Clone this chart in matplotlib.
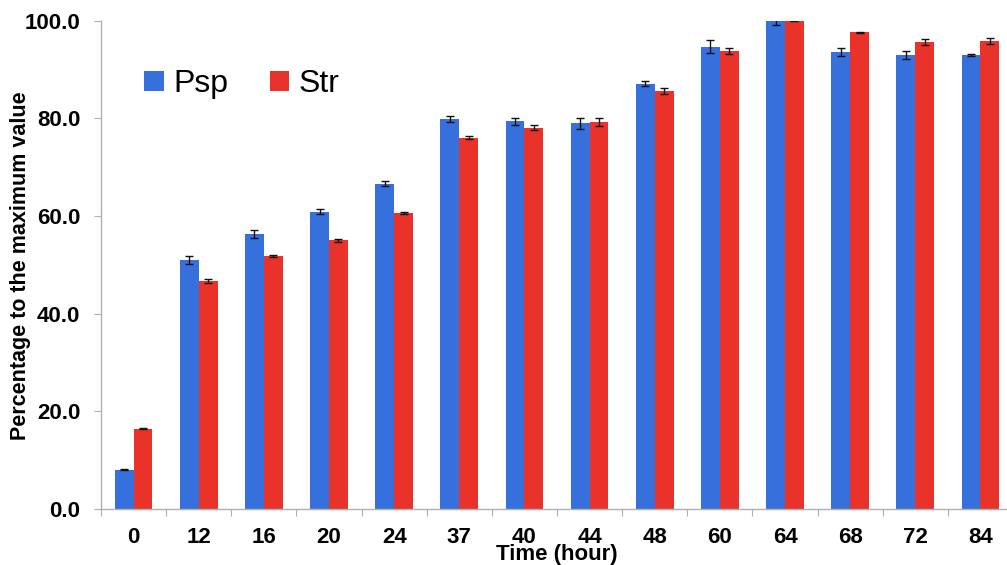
import numpy as np
import matplotlib
matplotlib.use('Agg')
import matplotlib.pyplot as plt

hours = ['0', '12', '16', '20', '24', '37', '40', '44', '48', '60', '64', '68', '72', '84']
psp = [8.0, 51.0, 56.4, 60.9, 66.6, 79.9, 79.4, 79.0, 87.1, 94.7, 100.0, 93.6, 93.0, 93.0]
psp_err = [0.1, 0.8, 0.8, 0.45, 0.5, 0.65, 0.7, 1.1, 0.55, 1.3, 0.9, 0.8, 0.8, 0.2]
strain = [16.4, 46.6, 51.8, 55.0, 60.7, 76.0, 78.1, 79.3, 85.6, 93.8, 100.0, 97.6, 95.6, 95.8]
str_err = [0.1, 0.4, 0.2, 0.3, 0.2, 0.3, 0.5, 0.8, 0.55, 0.6, 0.1, 0.1, 0.6, 0.6]

blue = '#3570DC'
red = '#E8322A'

plt.rcParams['font.family'] = ['Liberation Sans', 'DejaVu Sans']

fig = plt.figure(figsize=(10.07, 5.65), dpi=100)
# axes runs a little past the right edge, as in the reference
ax = fig.add_axes([101 / 1007, 56 / 565, 912 / 1007, 488.3 / 565])

x = np.arange(len(hours))
w = 0.29
ax.bar(x - w / 2, psp, w, color=blue, label='Psp', zorder=2)
ax.bar(x + w / 2, strain, w, color=red, label='Str', zorder=2)
ax.errorbar(x - w / 2, psp, yerr=psp_err, fmt='none', ecolor='#111111',
            elinewidth=1, capsize=3, capthick=1, zorder=3)
ax.errorbar(x + w / 2, strain, yerr=str_err, fmt='none', ecolor='#111111',
            elinewidth=1, capsize=3, capthick=1, zorder=3)

ax.set_xlim(-0.5, len(hours) - 0.5)
ax.set_ylim(0, 100)

for side in ['top', 'right']:
    ax.spines[side].set_visible(False)
for side in ['left', 'bottom']:
    ax.spines[side].set_color('#b0b0b0')
    ax.spines[side].set_linewidth(1)

ax.set_yticks(np.arange(0, 101, 20))
ax.set_yticklabels(['%.1f' % v for v in np.arange(0, 101, 20)],
                   fontsize=16, fontweight='bold')
ax.tick_params(axis='y', length=5, color='#b0b0b0', pad=10)

ax.set_xticks(np.arange(len(hours) + 1) - 0.5)
ax.set_xticklabels([])
ax.tick_params(axis='x', which='major', length=5, color='#b0b0b0')
ax.set_xticks(x, minor=True)
ax.set_xticklabels(hours, minor=True, fontsize=16, fontweight='bold')
ax.tick_params(axis='x', which='minor', length=0, pad=13)

ax.set_xlabel('Time (hour)', fontsize=16, fontweight='bold', labelpad=-3)
fig.text(21 / 1007, 0.53, 'Percentage to the maximum value', rotation=90,
         fontsize=15.5, fontweight='bold', ha='center', va='center')

ax.legend(loc='upper left', bbox_to_anchor=(0.016, 0.96), ncol=2, frameon=False,
          fontsize=23, handlelength=0.6, handleheight=0.6, handletextpad=0.3,
          columnspacing=1.3)

fig.savefig('out.png', dpi=100)
